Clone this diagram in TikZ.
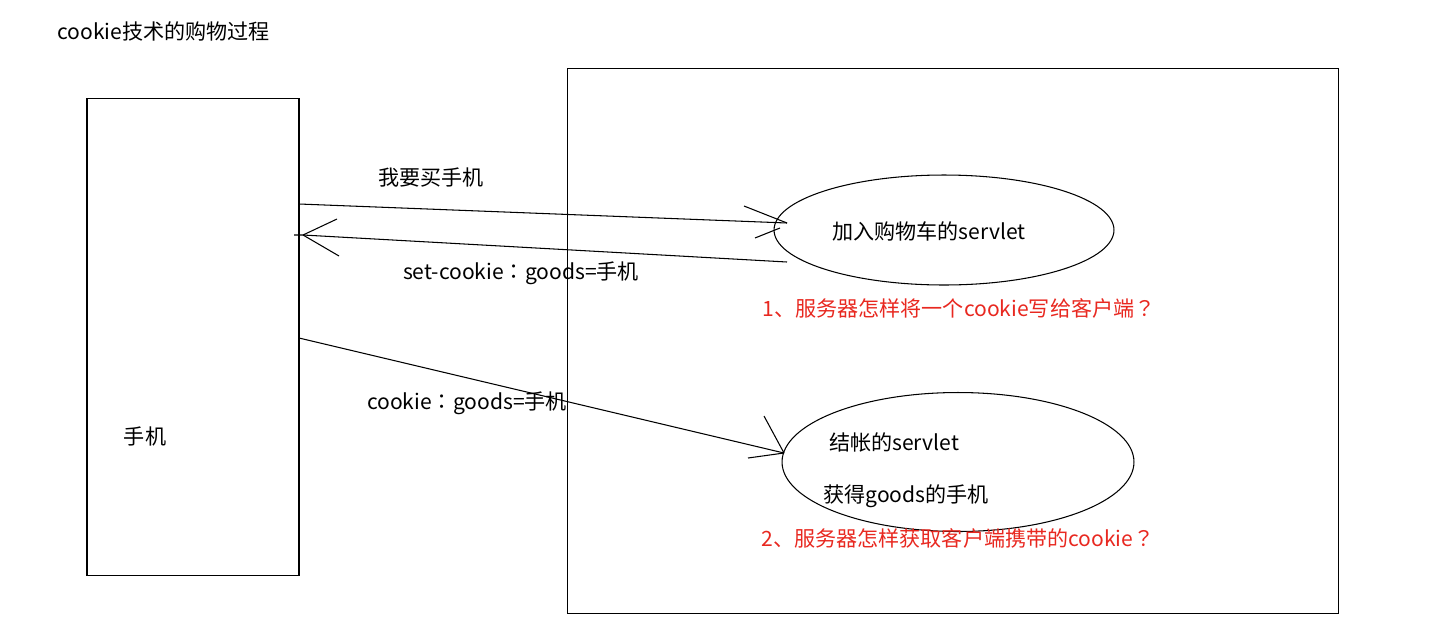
\documentclass[tikz,border=0pt]{standalone}
\usepackage{fontspec}
\setmainfont{Noto Sans CJK SC}
\newfontfamily\punct{Noto Sans CJK TC}
\usetikzlibrary{shapes.geometric}
\definecolor{paintred}{RGB}{232,40,32}
\tikzset{
  txt/.style={font=\fontsize{12pt}{14pt}\selectfont, inner sep=0pt},
  ask/.style={txt, text=paintred},
}
\newcommand{\qm}{{\punct ？}}
\newcommand{\cl}{{\punct ：}}
\begin{document}
\begin{tikzpicture}[x=0.02cm, y=-0.02cm, line width=0.6pt]
\useasboundingbox (0,0) rectangle (1429,643);

% title
\node[txt, anchor=west] (title) at (57,31) {cookie技术的购物过程};

% client and server
\node[draw, minimum width=4.24cm, minimum height=9.56cm, inner sep=0pt] (phone) at (193,337) {};
\node[txt] (phonelbl) at (145,436) {手机};
\node[draw, minimum width=15.44cm, minimum height=10.92cm, inner sep=0pt] (server) at (953,341) {};

% servlets
\node[draw, ellipse, minimum width=6.8cm, minimum height=2.2cm, inner sep=0pt] (cart) at (944,230) {};
\node[txt] (cartlbl) at (929,231) {加入购物车的servlet};
\node[draw, ellipse, minimum width=7.04cm, minimum height=2.78cm, inner sep=0pt] (pay) at (958,462) {};
\node[txt] (paylbl) at (894,442) {结帐的servlet};
\node[txt] (getlbl) at (906,496) {获得goods的手机};

% questions
\node[ask] (q1) at (959,308) {1、服务器怎样将一个cookie写给客户端\qm};
\node[ask] (q2) at (958,538) {2、服务器怎样获取客户端携带的cookie\qm};

% ends of the messages
\coordinate (a1) at (299,204);
\coordinate (b1) at (787,223);
\coordinate (a2) at (787,262);
\coordinate (b2) at (303,235);
\coordinate (a3) at (299,338);
\coordinate (b3) at (784,453);

% request
\draw (a1) -- (b1);
\draw (b1) -- (744,206) (780,228) -- (755,238);
\node[txt] (buy) at (431,178) {我要买手机};
% response
\draw (a2) -- (b2);
\draw (b2) -- (337,219) (b2) -- (339,256) (b2) -- (294,235);
\node[txt] (setck) at (521,273) {set-cookie\cl goods=手机};
% next request
\draw (a3) -- (b3);
\draw (b3) -- (764,416) (b3) -- (748,458);
\node[txt] (ck) at (467,403) {cookie\cl goods=手机};

\end{tikzpicture}
\end{document}
